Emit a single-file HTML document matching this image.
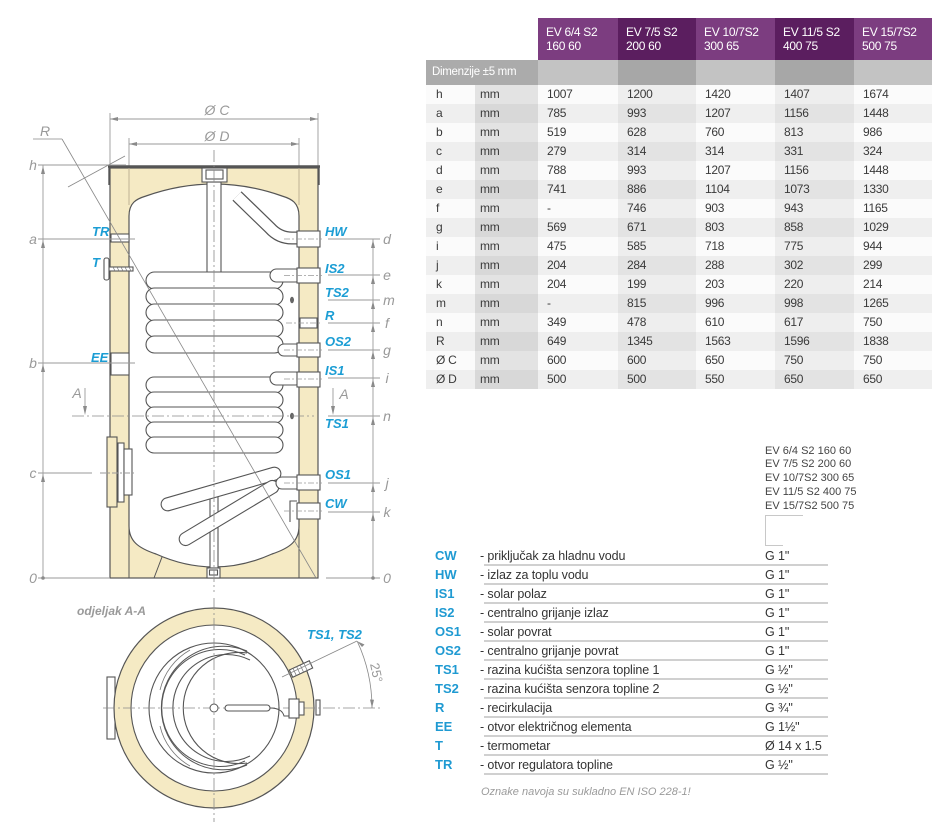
<!DOCTYPE html>
<html><head><meta charset="utf-8">
<style>
html,body{margin:0;padding:0;background:#fff;}
body{width:945px;height:831px;position:relative;overflow:hidden;font-family:"Liberation Sans",sans-serif;}
#t{position:absolute;left:426px;top:18px;border-collapse:collapse;table-layout:fixed;width:506px;font-family:"Liberation Sans Narrow","Liberation Sans",sans-serif;font-size:12px;letter-spacing:-0.3px;color:#3a3a3a;}
#t td{padding:0 0 0 9px;height:19px;line-height:19px;white-space:nowrap;overflow:hidden;}
#t td:first-child{padding-left:10px;}
#t td:nth-child(2){padding-left:5px;}
#t tr.hd td{height:42px;line-height:14px;color:#fff;vertical-align:middle;padding-left:8px;}
#t .p1{background:#7c3d80;}
#t .p2{background:#5b1e5f;}
#t tr.dm td{height:25px;line-height:25px;color:#fff;font-size:11.5px;padding-left:6px;background:#ababab;}
#t tr.dm td.g1{background:#c3c3c3;}
#t tr.dm td.g2{background:#a7a7a7;}
#t tr.r td{background:#fbfbfb;}
#t tr.r td:nth-child(2){background:#e3e3e3;}
#t tr.r td:nth-child(4),#t tr.r td:nth-child(6){background:#eeeeee;}
#t tr.r.o td{background:#efefef;}
#t tr.r.o td:nth-child(2){background:#d8d8d8;}
#t tr.r.o td:nth-child(4),#t tr.r.o td:nth-child(6){background:#e3e3e3;}
svg{position:absolute;left:0;top:0;}
.l{stroke:#555;stroke-width:1.2;fill:none}
.w{fill:#fff;stroke:#555;stroke-width:1.1}
.dl{stroke:#9a9a9a;stroke-width:0.9;fill:none}
.cl{stroke:#8a8a8a;stroke-width:0.8;fill:none;stroke-dasharray:12 3 2 3}
.ar{fill:#8a8a8a}
.gl{font-family:"Liberation Sans",sans-serif;font-style:italic;font-size:14px;fill:#999}
.bl{font-family:"Liberation Sans",sans-serif;font-style:italic;font-weight:bold;font-size:13px;fill:#1b9dd4}
.lg{font-family:"Liberation Sans",sans-serif;font-weight:bold;font-size:13px;fill:#1f9ad2}
.ds{font-family:"Liberation Sans Narrow","Liberation Sans",sans-serif;font-size:12.5px;fill:#333;letter-spacing:-0.1px}
.ml{font-family:"Liberation Sans Narrow","Liberation Sans",sans-serif;font-size:11px;fill:#444}
</style></head>
<body>
<svg width="945" height="831" viewBox="0 0 945 831">
<!-- ===== SIDE VIEW ===== -->
<line class="dl" x1="110" y1="113" x2="110" y2="166"/>
<line class="dl" x1="318" y1="113" x2="318" y2="166"/>
<line class="dl" x1="110" y1="119" x2="318" y2="119"/>
<polygon class="ar" points="110,119 118,117 118,121"/>
<polygon class="ar" points="318,119 310,117 310,121"/>
<text class="gl" x="217" y="115" text-anchor="middle" font-size="13">Ø C</text>
<line class="dl" x1="129" y1="138" x2="129" y2="168"/>
<line class="dl" x1="299" y1="138" x2="299" y2="168"/>
<line class="dl" x1="129" y1="144" x2="299" y2="144"/>
<polygon class="ar" points="129,144 137,142 137,146"/>
<polygon class="ar" points="299,144 291,142 291,146"/>
<text class="gl" x="217" y="141" text-anchor="middle" font-size="13">Ø D</text>

<rect x="110" y="168" width="208" height="410" fill="#f5eac4" stroke="#555" stroke-width="1.2"/>
<line x1="129" y1="168" x2="129" y2="205" stroke="#b8ad90" stroke-width="0.9"/>
<line x1="299" y1="168" x2="299" y2="205" stroke="#b8ad90" stroke-width="0.9"/>
<path d="M129,216 C129,203 136,199 146,196 Q214,172 282,196 C292,199 299,203 299,216 L299,526 C299,541 290,548 272,554 Q214,580 156,554 C138,548 129,541 129,526 Z" fill="#fff" stroke="#555" stroke-width="1.2"/>
<line x1="129" y1="526" x2="129" y2="578" stroke="#555" stroke-width="1"/>
<line x1="299" y1="526" x2="299" y2="578" stroke="#555" stroke-width="1"/>
<line x1="162" y1="557" x2="154" y2="578" stroke="#555" stroke-width="1"/>
<line x1="108" y1="166.5" x2="320" y2="166.5" stroke="#555" stroke-width="2.5"/>
<line x1="109" y1="166" x2="109" y2="185" stroke="#555" stroke-width="1.4"/>
<line x1="319" y1="166" x2="319" y2="185" stroke="#555" stroke-width="1.4"/>

<rect class="w" x="207" y="182" width="14" height="98"/>
<rect class="w" x="202" y="168" width="25" height="14"/>
<rect class="w" x="206" y="170" width="17" height="9"/>
<rect class="w" x="210" y="493" width="8" height="75"/>
<rect class="w" x="207" y="568" width="13" height="10"/>
<rect class="w" x="209.5" y="570" width="8" height="5"/>

<path d="M237,196 L270,228 Q279,238 292,238 L300,238" stroke="#555" stroke-width="13" fill="none"/>
<path d="M237,196 L270,228 Q279,238 292,238 L300,238" stroke="#fff" stroke-width="10.6" fill="none"/>

<g fill="#fff" stroke="#555" stroke-width="1.1">
<rect x="146" y="272" width="137" height="17" rx="8.5"/>
<rect x="146" y="288" width="137" height="17" rx="8.5"/>
<rect x="146" y="304" width="137" height="17" rx="8.5"/>
<rect x="146" y="320" width="137" height="17" rx="8.5"/>
<rect x="146" y="336" width="137" height="17" rx="8.5"/>
<rect x="146" y="377" width="137" height="16" rx="8"/>
<rect x="146" y="392" width="137" height="16" rx="8"/>
<rect x="146" y="407" width="137" height="16" rx="8"/>
<rect x="146" y="422" width="137" height="16" rx="8"/>
<rect x="146" y="437" width="137" height="16" rx="8"/>
<rect x="-62" y="-6.5" width="124" height="13" rx="6.5" transform="translate(221,489) rotate(-16)"/>
<rect x="-57" y="-6.5" width="114" height="13" rx="6.5" transform="translate(229,513) rotate(-31)"/>
<rect x="270" y="269" width="32" height="13" rx="6.5"/>
<rect x="278" y="344" width="24" height="12" rx="6"/>
<rect x="270" y="372" width="32" height="13" rx="6.5"/>
<rect x="276" y="477" width="26" height="12" rx="6"/>
</g>

<g class="w">
<rect x="297" y="231" width="23" height="16"/>
<rect x="297" y="268" width="23" height="15"/>
<rect x="300" y="318" width="17" height="10"/>
<rect x="297" y="343" width="23" height="14"/>
<rect x="297" y="372" width="23" height="15"/>
<rect x="297" y="475" width="23" height="15"/>
<rect x="297" y="503" width="23" height="16"/>
</g>
<path d="M297,501 L290,501 L290,522" stroke="#555" stroke-width="1.1" fill="none"/>
<ellipse cx="292" cy="300" rx="2" ry="3.2" fill="#666"/>
<ellipse cx="292" cy="416" rx="2" ry="3.2" fill="#666"/>

<rect class="w" x="111" y="234" width="18" height="8"/>
<rect class="w" x="111" y="353" width="18" height="22"/>
<rect class="w" x="109" y="267" width="24" height="4"/>
<path d="M113,267 l2,4 M117,267 l2,4 M121,267 l2,4 M125,267 l2,4 M129,267 l2,4" stroke="#777" stroke-width="0.7"/>
<rect class="w" x="104" y="258" width="5" height="22" rx="2"/>
<rect x="107" y="437" width="10" height="70" fill="#f5eac4" stroke="#555" stroke-width="1.1"/>
<rect class="w" x="118" y="443" width="6" height="59"/>
<rect class="w" x="124" y="449" width="8" height="46"/>

<line class="cl" x1="214" y1="150" x2="214" y2="592"/>
<g stroke="#999" stroke-width="0.8" stroke-dasharray="6 2 2 2">
<line x1="284" y1="239" x2="322" y2="239"/>
<line x1="284" y1="275.5" x2="322" y2="275.5"/>
<line x1="286" y1="323" x2="322" y2="323"/>
<line x1="284" y1="350" x2="322" y2="350"/>
<line x1="284" y1="379" x2="322" y2="379"/>
<line x1="284" y1="483" x2="322" y2="483"/>
<line x1="284" y1="511" x2="322" y2="511"/>
</g>

<line x1="33" y1="139" x2="62" y2="139" stroke="#888" stroke-width="0.8"/>
<line x1="62" y1="139" x2="316" y2="578" stroke="#888" stroke-width="0.8"/>
<line x1="68" y1="187" x2="125" y2="156" stroke="#888" stroke-width="0.8"/>
<text class="gl" x="45" y="136" text-anchor="middle" font-size="13">R</text>

<line class="dl" x1="43" y1="165" x2="43" y2="578"/>
<line class="dl" x1="38" y1="165" x2="126" y2="165"/>
<line class="dl" x1="38" y1="239" x2="135" y2="239"/>
<line class="dl" x1="38" y1="363" x2="135" y2="363"/>
<line class="dl" x1="38" y1="473" x2="92" y2="473"/>
<line class="dl" x1="100" y1="473" x2="135" y2="473" stroke-dasharray="6 2 2 2"/>
<line class="dl" x1="38" y1="578" x2="110" y2="578"/>
<g class="ar">
<polygon points="43,166 41,174 45,174"/>
<polygon points="43,240 41,248 45,248"/>
<polygon points="43,364 41,372 45,372"/>
<polygon points="43,474 41,482 45,482"/>
<circle cx="43" cy="578" r="1.8"/>
</g>
<text class="gl" x="33" y="170" text-anchor="middle">h</text>
<text class="gl" x="33" y="244" text-anchor="middle">a</text>
<text class="gl" x="33" y="368" text-anchor="middle">b</text>
<text class="gl" x="33" y="478" text-anchor="middle">c</text>
<text class="gl" x="33" y="583" text-anchor="middle">0</text>

<line class="dl" x1="373" y1="239" x2="373" y2="578"/>
<g class="dl">
<line x1="328" y1="239" x2="380" y2="239"/>
<line x1="328" y1="275" x2="380" y2="275"/>
<line x1="328" y1="300" x2="380" y2="300"/>
<line x1="328" y1="323" x2="380" y2="323"/>
<line x1="328" y1="350" x2="380" y2="350"/>
<line x1="328" y1="378" x2="380" y2="378"/>
<line x1="328" y1="416" x2="380" y2="416"/>
<line x1="328" y1="483" x2="380" y2="483"/>
<line x1="328" y1="512" x2="380" y2="512"/>
<line x1="326" y1="578" x2="380" y2="578"/>
</g>
<g class="ar">
<polygon points="373,240 371,248 375,248"/>
<polygon points="373,276 371,284 375,284"/>
<polygon points="373,301 371,309 375,309"/>
<polygon points="373,324 371,332 375,332"/>
<polygon points="373,351 371,359 375,359"/>
<polygon points="373,379 371,387 375,387"/>
<polygon points="373,417 371,425 375,425"/>
<polygon points="373,484 371,492 375,492"/>
<polygon points="373,513 371,521 375,521"/>
<circle cx="373" cy="578" r="1.8"/>
</g>
<g class="gl" text-anchor="middle">
<text x="387" y="244">d</text>
<text x="387" y="280">e</text>
<text x="389" y="305">m</text>
<text x="387" y="328">f</text>
<text x="387" y="355">g</text>
<text x="387" y="383">i</text>
<text x="387" y="421">n</text>
<text x="387" y="488">j</text>
<text x="387" y="517">k</text>
<text x="387" y="583">0</text>
</g>

<line class="cl" x1="72" y1="416" x2="314" y2="416"/>
<line class="dl" x1="85" y1="388" x2="85" y2="410"/>
<polygon class="ar" points="85,415 83,406 87,406"/>
<line class="dl" x1="333" y1="388" x2="333" y2="410"/>
<polygon class="ar" points="333,415 331,406 335,406"/>
<text class="gl" x="77" y="398" text-anchor="middle" font-size="13">A</text>
<text class="gl" x="344" y="399" text-anchor="middle" font-size="13">A</text>

<g class="bl">
<text x="325" y="236">HW</text>
<text x="325" y="273">IS2</text>
<text x="325" y="297">TS2</text>
<text x="325" y="320">R</text>
<text x="325" y="346">OS2</text>
<text x="325" y="375">IS1</text>
<text x="325" y="428">TS1</text>
<text x="325" y="479">OS1</text>
<text x="325" y="508">CW</text>
<text x="92" y="236">TR</text>
<text x="92" y="267">T</text>
<text x="91" y="362">EE</text>
</g>

<!-- ===== SECTION A-A ===== -->
<text x="77" y="615" font-family="Liberation Sans,sans-serif" font-style="italic" font-weight="bold" font-size="12" fill="#9a9a9a">odjeljak A-A</text>
<rect class="w" x="107" y="677" width="8" height="62"/>
<rect class="w" x="316" y="700" width="4" height="15"/>
<circle cx="214" cy="708" r="100" fill="#f5eac4" stroke="#555" stroke-width="1.2"/>
<circle cx="214" cy="708" r="83" fill="#fff" stroke="#555" stroke-width="1.1"/>
<circle cx="214" cy="708" r="65" fill="none" stroke="#555" stroke-width="1.1"/>
<path d="M247,651 A61.8,61.8 0 1 0 247,765" fill="none" stroke="#555" stroke-width="1"/>
<path d="M245,655 A58.5,58.5 0 1 0 245,761" fill="none" stroke="#555" stroke-width="1"/>
<path d="M250,660 A53.5,53.5 0 1 0 250,756" fill="none" stroke="#555" stroke-width="1.1"/>
<path d="M247,653 A55.6,55.6 0 1 0 247,763" fill="none" stroke="#555" stroke-width="1.1"/>
<path d="M160,690 A62,62 0 0 1 190,650" fill="none" stroke="#777" stroke-width="0.8"/>
<path d="M160,726 A62,62 0 0 0 190,766" fill="none" stroke="#777" stroke-width="0.8"/>
<line class="cl" x1="103" y1="708" x2="380" y2="708"/>
<line class="cl" x1="214" y1="598" x2="214" y2="822"/>
<circle cx="214" cy="708" r="4" fill="#fff" stroke="#555" stroke-width="1"/>
<rect class="w" x="225" y="705" width="45" height="6" rx="3"/>
<path d="M270,708 Q282,708 284,716 L290,716" stroke="#555" stroke-width="1" fill="none"/>
<rect class="w" x="289" y="699" width="10" height="19"/>
<rect class="w" x="299" y="702" width="5" height="13"/>
<g transform="translate(301,669) rotate(-25)">
<rect class="w" x="-11" y="-4" width="22" height="8"/>
<path d="M-7,-4 v8 M-3,-4 v8 M1,-4 v8 M5,-4 v8" stroke="#777" stroke-width="0.7"/>
</g>
<line x1="282" y1="677" x2="357" y2="641" stroke="#888" stroke-width="0.8"/>
<path d="M357.2,641.2 A158,158 0 0 1 372,708" fill="none" stroke="#888" stroke-width="0.8"/>
<polygon class="ar" points="357.2,641.2 362,647 364.5,644.5"/>
<polygon class="ar" points="372,708 370,699.5 374,699.8"/>
<text x="370" y="664" transform="rotate(78 370 664)" font-family="Liberation Sans,sans-serif" font-size="13" fill="#999">25°</text>
<text class="bl" x="307" y="639">TS1, TS2</text>

<!-- ===== LEGEND ===== -->
<g class="ml">
<text x="765" y="454">EV 6/4 S2 160 60</text>
<text x="765" y="467">EV 7/5 S2 200 60</text>
<text x="765" y="481">EV 10/7S2 300 65</text>
<text x="765" y="495">EV 11/5 S2 400 75</text>
<text x="765" y="509">EV 15/7S2 500 75</text>
</g>
<path d="M803,515.5 H765.5 V545.5 H783" stroke="#c8c8c8" stroke-width="1" fill="none"/>
<g stroke="#b5b5b5" stroke-width="1.3">
<line x1="484" y1="565" x2="828" y2="565"/>
<line x1="484" y1="584" x2="828" y2="584"/>
<line x1="484" y1="603" x2="828" y2="603"/>
<line x1="484" y1="622" x2="828" y2="622"/>
<line x1="484" y1="641" x2="828" y2="641"/>
<line x1="484" y1="660" x2="828" y2="660"/>
<line x1="484" y1="679" x2="828" y2="679"/>
<line x1="484" y1="698" x2="828" y2="698"/>
<line x1="484" y1="717" x2="828" y2="717"/>
<line x1="484" y1="736" x2="828" y2="736"/>
<line x1="484" y1="755" x2="828" y2="755"/>
<line x1="484" y1="774" x2="828" y2="774"/>
</g>
<g class="lg">
<text x="435" y="560">CW</text>
<text x="435" y="579">HW</text>
<text x="435" y="598">IS1</text>
<text x="435" y="617">IS2</text>
<text x="435" y="636">OS1</text>
<text x="435" y="655">OS2</text>
<text x="435" y="674">TS1</text>
<text x="435" y="693">TS2</text>
<text x="435" y="712">R</text>
<text x="435" y="731">EE</text>
<text x="435" y="750">T</text>
<text x="435" y="769">TR</text>
</g>
<g class="ds">
<text x="480" y="560">- priključak za hladnu vodu</text>
<text x="480" y="579">- izlaz za toplu vodu</text>
<text x="480" y="598">- solar polaz</text>
<text x="480" y="617">- centralno grijanje izlaz</text>
<text x="480" y="636">- solar povrat</text>
<text x="480" y="655">- centralno grijanje povrat</text>
<text x="480" y="674">- razina kućišta senzora topline 1</text>
<text x="480" y="693">- razina kućišta senzora topline 2</text>
<text x="480" y="712">- recirkulacija</text>
<text x="480" y="731">- otvor električnog elementa</text>
<text x="480" y="750">- termometar</text>
<text x="480" y="769">- otvor regulatora topline</text>
<text x="765" y="560">G 1"</text>
<text x="765" y="579">G 1"</text>
<text x="765" y="598">G 1"</text>
<text x="765" y="617">G 1"</text>
<text x="765" y="636">G 1"</text>
<text x="765" y="655">G 1"</text>
<text x="765" y="674">G ½"</text>
<text x="765" y="693">G ½"</text>
<text x="765" y="712">G ¾"</text>
<text x="765" y="731">G 1½"</text>
<text x="765" y="750">Ø 14 x 1.5</text>
<text x="765" y="769">G ½"</text>
</g>
<text x="481" y="795" font-family="Liberation Sans,sans-serif" font-style="italic" font-size="11" fill="#9a9a9a">Oznake navoja su sukladno EN ISO 228-1!</text>
</svg>

<table id="t">
<colgroup><col style="width:49px"><col style="width:63px"><col style="width:80px"><col style="width:78px"><col style="width:79px"><col style="width:79px"><col style="width:78px"></colgroup>
<tr class="hd"><td></td><td></td><td class="p1">EV 6/4 S2<br>160 60</td><td class="p2">EV 7/5 S2<br>200 60</td><td class="p1">EV 10/7S2<br>300 65</td><td class="p2">EV 11/5 S2<br>400 75</td><td class="p1">EV 15/7S2<br>500 75</td></tr>
<tr class="dm"><td colspan="2">Dimenzije ±5 mm</td><td class="g1"></td><td class="g2"></td><td class="g1"></td><td class="g2"></td><td class="g1"></td></tr>
<tr class="r"><td>h</td><td>mm</td><td>1007</td><td>1200</td><td>1420</td><td>1407</td><td>1674</td></tr>
<tr class="r o"><td>a</td><td>mm</td><td>785</td><td>993</td><td>1207</td><td>1156</td><td>1448</td></tr>
<tr class="r"><td>b</td><td>mm</td><td>519</td><td>628</td><td>760</td><td>813</td><td>986</td></tr>
<tr class="r o"><td>c</td><td>mm</td><td>279</td><td>314</td><td>314</td><td>331</td><td>324</td></tr>
<tr class="r"><td>d</td><td>mm</td><td>788</td><td>993</td><td>1207</td><td>1156</td><td>1448</td></tr>
<tr class="r o"><td>e</td><td>mm</td><td>741</td><td>886</td><td>1104</td><td>1073</td><td>1330</td></tr>
<tr class="r"><td>f</td><td>mm</td><td>-</td><td>746</td><td>903</td><td>943</td><td>1165</td></tr>
<tr class="r o"><td>g</td><td>mm</td><td>569</td><td>671</td><td>803</td><td>858</td><td>1029</td></tr>
<tr class="r"><td>i</td><td>mm</td><td>475</td><td>585</td><td>718</td><td>775</td><td>944</td></tr>
<tr class="r o"><td>j</td><td>mm</td><td>204</td><td>284</td><td>288</td><td>302</td><td>299</td></tr>
<tr class="r"><td>k</td><td>mm</td><td>204</td><td>199</td><td>203</td><td>220</td><td>214</td></tr>
<tr class="r o"><td>m</td><td>mm</td><td>-</td><td>815</td><td>996</td><td>998</td><td>1265</td></tr>
<tr class="r"><td>n</td><td>mm</td><td>349</td><td>478</td><td>610</td><td>617</td><td>750</td></tr>
<tr class="r o"><td>R</td><td>mm</td><td>649</td><td>1345</td><td>1563</td><td>1596</td><td>1838</td></tr>
<tr class="r"><td>Ø C</td><td>mm</td><td>600</td><td>600</td><td>650</td><td>750</td><td>750</td></tr>
<tr class="r o"><td>Ø D</td><td>mm</td><td>500</td><td>500</td><td>550</td><td>650</td><td>650</td></tr>
</table>
</body></html>
